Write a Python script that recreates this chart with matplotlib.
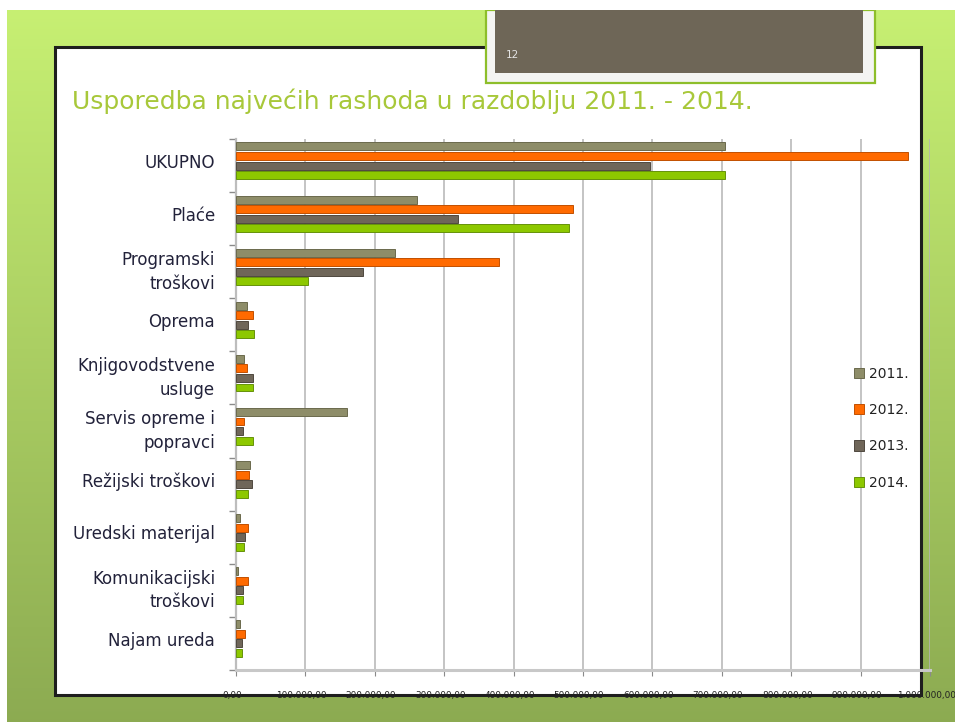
"""Usporedba najvećih rashoda 2011.-2014. — slide s vodoravnim stupcima."""

import numpy as np
import matplotlib
matplotlib.use("Agg")
import matplotlib.pyplot as plt
import matplotlib.transforms as mtransforms
from matplotlib.patches import Rectangle
from matplotlib.ticker import FixedLocator, FuncFormatter

categories = ["UKUPNO", "Plaće", "Programski\ntroškovi", "Oprema",
              "Knjigovodstvene\nusluge", "Servis opreme i\npopravci",
              "Režijski troškovi", "Uredski materijal",
              "Komunikacijski\ntroškovi", "Najam ureda"]
years = ["2011.", "2012.", "2013.", "2014."]
y2011 = [705000, 261000, 229000, 16000, 12000, 160000, 20000, 6000, 3000, 6000]
y2012 = [968000, 486000, 379000, 24000, 16000, 12000, 19000, 17000, 17000, 13000]
y2013 = [597000, 320000, 183000, 17000, 24000, 10000, 23000, 13000, 10000, 9000]
y2014 = [705000, 480000, 104000, 26000, 24000, 24000, 17000, 12000, 10000, 9000]
xticks = [0, 100000, 200000, 300000, 400000, 500000, 600000, 700000, 800000, 900000, 1000000]

COLS = ["#8E8D69", "#FF6A00", "#6F6659", "#8DC800"]
EDGE = ["#6B6A4C", "#C24F00", "#4F483F", "#66920A"]
W, H = 955, 722

fig = plt.figure(figsize=(9.55, 7.22), dpi=100)
fig.patch.set_facecolor("white")

# slide background
bg = fig.add_axes([0, 0, 1, 1])
bg.set_xlim(0, W); bg.set_ylim(H, 0); bg.axis("off")
grad = np.linspace(0, 1, 256)[:, None]
top, bot = np.array([0.78, 0.94, 0.45]), np.array([0.55, 0.67, 0.32])
img = top + (bot - top) * grad[..., None]
bg.imshow(np.repeat(img, 4, axis=1), extent=(7, W, H, 10), aspect="auto", zorder=0)
bg.add_patch(Rectangle((55, 47), 866, 648, facecolor="white", edgecolor="#1e1e1e",
                       lw=2.2, zorder=1))
# slide number box
bg.add_patch(Rectangle((486, 10), 389, 73, facecolor="#F4F4F2", edgecolor="#8DBE2A",
                       lw=1.6, zorder=2))
bg.add_patch(Rectangle((495, 10), 368, 63, facecolor="#6E6657", edgecolor="none", zorder=3))
bg.add_patch(Rectangle((480, 0), 400, 10, facecolor="white", edgecolor="none", zorder=3.5))
bg.text(506, 55, "12", fontsize=7.5, color="#E4E4E4", va="center", zorder=4)
bg.text(72, 101, "Usporedba najvećih rashoda u razdoblju 2011. - 2014.",
        fontsize=18, color="#A8C83A", va="center", zorder=4)

# chart
ax = fig.add_axes([236 / W, 1 - 670 / H, 694 / W, 531 / H])
ax.set_facecolor("none")
n = len(categories)
pos = np.arange(n)
series = [y2011, y2012, y2013, y2014]
for k, (vals, lab) in enumerate(zip(series, years)):
    ax.barh(pos + (k - 1.5) * 0.18, vals, height=0.15, color=COLS[k],
            edgecolor=EDGE[k], linewidth=0.7, label=lab, zorder=3)

ax.set_ylim(n - 0.41, -0.41)
ax.set_xlim(0, 1000000)
ax.yaxis.set_major_locator(FixedLocator(pos))
ax.set_yticklabels(categories, fontsize=12, color="#22223A", linespacing=1.4)
ax.yaxis.set_minor_locator(FixedLocator(np.arange(n + 1) - 0.41))
ax.tick_params(axis="y", which="major", length=0, pad=15)
ax.tick_params(axis="y", which="minor", length=5, color="#8a8a8a", width=1)

ax.xaxis.set_major_locator(FixedLocator(xticks))
ax.xaxis.set_major_formatter(FuncFormatter(
    lambda v, p: f"{v:,.2f}".replace(",", "X").replace(".", ",").replace("X", ".")))
ax.tick_params(axis="x", length=4, color="#8a8a8a", labelsize=6.4, labelcolor="#222222", pad=11)
shift = mtransforms.ScaledTranslation(-4 / 100, 0, fig.dpi_scale_trans)
for lbl in ax.get_xticklabels():
    lbl.set_clip_on(False)
    lbl.set_transform(lbl.get_transform() + shift)

ax.xaxis.grid(True, color="#B4B4B4", lw=1.1, zorder=0)
for s in ("top", "right"):
    ax.spines[s].set_visible(False)
ax.spines["left"].set_color("#BDBDBD"); ax.spines["left"].set_linewidth(1.6)
ax.spines["bottom"].set_color("#C8C8C8"); ax.spines["bottom"].set_linewidth(2.2)

leg = ax.legend(loc="upper left", bbox_to_anchor=(847 / W, 1 - 360 / H),
                bbox_transform=fig.transFigure, frameon=False, fontsize=10,
                handlelength=0.75, handleheight=0.75, handletextpad=0.35,
                labelspacing=1.6, borderpad=0)
for t in leg.get_texts():
    t.set_color("#222222")

fig.savefig("out.png", dpi=100)
